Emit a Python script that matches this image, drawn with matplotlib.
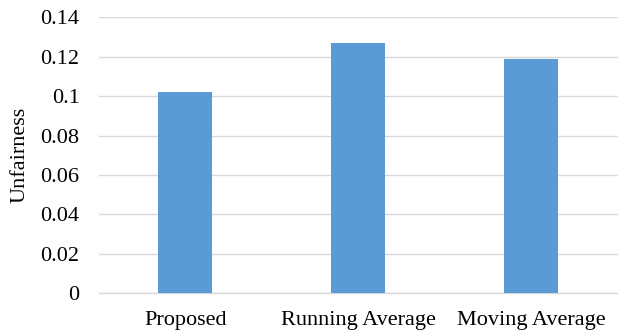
import matplotlib
matplotlib.use("Agg")
import matplotlib.pyplot as plt
import numpy as np

categories = ["Proposed", "Running Average", "Moving Average"]
unfairness = [0.102, 0.127, 0.119]
yticks = [0, 0.02, 0.04, 0.06, 0.08, 0.1, 0.12, 0.14]
ytick_labels = ["0", "0.02", "0.04", "0.06", "0.08", "0.1", "0.12", "0.14"]

plt.rcParams["font.family"] = ["Liberation Serif", "DejaVu Serif"]

fig = plt.figure(figsize=(6.21, 3.33), dpi=100)
ax = fig.add_axes([99 / 621, 1 - 293.3 / 333, (617.5 - 99) / 621, (293.3 - 17.3) / 333])

x = np.arange(len(categories))
ax.bar(x, unfairness, width=0.312, color="#5B9BD5", zorder=3)

ax.set_xlim(-0.5, len(categories) - 0.5)
ax.set_ylim(0, 0.14)
ax.set_yticks(yticks)
ax.set_yticklabels(ytick_labels)
ax.set_xticks(x)
ax.set_xticklabels(categories)

ax.yaxis.grid(True, color="#D9D9D9", linewidth=1.0, zorder=0)
ax.set_axisbelow(True)
for side in ["top", "right", "left"]:
    ax.spines[side].set_visible(False)
ax.spines["bottom"].set_color("#D9D9D9")
ax.spines["bottom"].set_linewidth(1.0)

ax.tick_params(axis="both", length=0, labelsize=16, colors="black")
ax.tick_params(axis="y", pad=14)
ax.tick_params(axis="x", pad=13)

ax.set_ylabel("Unfairness", fontsize=16)
ax.yaxis.set_label_coords((30 - 99) / 518.5, 0.5)

fig.savefig("out.png", dpi=100)
